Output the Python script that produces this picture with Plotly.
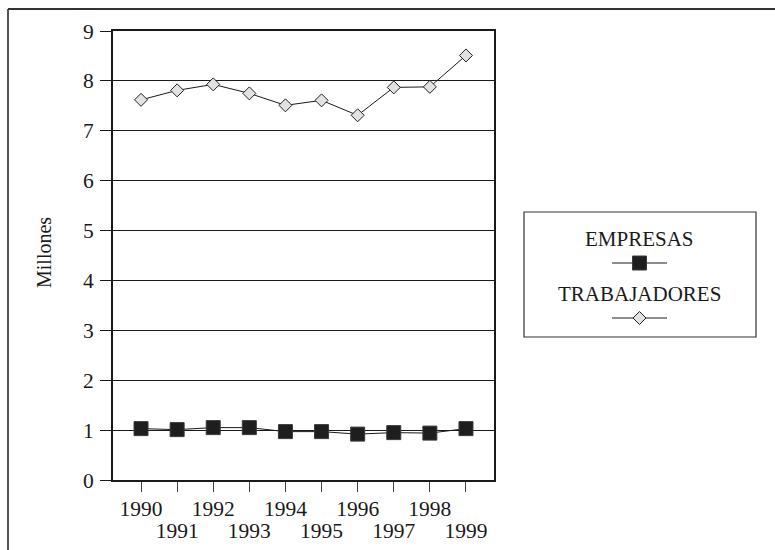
import plotly.graph_objects as go

years = ["1990", "1991", "1992", "1993", "1994", "1995", "1996", "1997", "1998", "1999"]
empresas = [1.03, 1.01, 1.05, 1.05, 0.97, 0.97, 0.92, 0.95, 0.94, 1.03]
trabajadores = [7.62, 7.81, 7.93, 7.75, 7.51, 7.61, 7.31, 7.87, 7.88, 8.51]
series_names = ["EMPRESAS", "TRABAJADORES"]
y_ticks = [0, 1, 2, 3, 4, 5, 6, 7, 8, 9]
y_title = "Millones"

W, H = 775, 550
FONT = "Liberation Serif, Times New Roman, serif"
TXT = "#1a1a1a"


def px(x):
    return x / W


def py(y):
    return (H - y) / H


xs = list(range(len(years)))
even_text = [y if i % 2 == 0 else "" for i, y in enumerate(years)]
odd_vals = [i for i in xs if i % 2 == 1]
odd_text = [years[i] for i in odd_vals]

fig = go.Figure()

sq_marker = dict(symbol="square", size=14, color="#1e1e1e", line=dict(color="#3a3a3a", width=1))
dia_marker = dict(symbol="diamond", size=10, color="#e2e2e2", line=dict(color="#222", width=1))

fig.add_trace(go.Scatter(x=xs, y=trabajadores, mode="lines+markers", name=series_names[1],
                         line=dict(color=TXT, width=1), marker=dia_marker,
                         showlegend=False, cliponaxis=False))
fig.add_trace(go.Scatter(x=xs, y=empresas, mode="lines+markers", name=series_names[0],
                         line=dict(color=TXT, width=1), marker=sq_marker,
                         showlegend=False, cliponaxis=False))
# invisible trace so the second (odd-year label) axis gets drawn
fig.add_trace(go.Scatter(x=odd_vals, y=[empresas[i] for i in odd_vals], xaxis="x3", yaxis="y",
                         mode="markers", marker=dict(opacity=0), showlegend=False,
                         hoverinfo="skip"))

# custom legend swatches (text above symbol)
for row, (name, mk) in enumerate([(series_names[0], sq_marker), (series_names[1], dia_marker)]):
    yv = 1 - row
    fig.add_trace(go.Scatter(x=[-1, 1], y=[yv, yv], mode="lines",
                             line=dict(color=TXT, width=1),
                             xaxis="x2", yaxis="y2", showlegend=False, hoverinfo="skip"))
    fig.add_trace(go.Scatter(x=[0], y=[yv], mode="markers", marker=mk,
                             xaxis="x2", yaxis="y2", showlegend=False, hoverinfo="skip"))
    fig.add_annotation(x=px(639.5), y=py(239 + 55 * row), xref="paper", yref="paper",
                       text=name, showarrow=False, xanchor="center", yanchor="middle",
                       font=dict(family=FONT, size=21, color=TXT))

fig.add_annotation(x=px(44), y=py(253), xref="paper", yref="paper", text=y_title,
                   textangle=-90, showarrow=False, xanchor="center", yanchor="middle",
                   font=dict(family=FONT, size=20, color=TXT))

shapes = [
    # legend box
    dict(type="rect", xref="paper", yref="paper", x0=px(524), x1=px(756), y0=py(337), y1=py(212),
         line=dict(color="#333", width=1.2), fillcolor="rgba(0,0,0,0)"),
    # outer frame
    dict(type="line", xref="paper", yref="paper", x0=px(8), x1=px(8), y0=0, y1=py(9),
         line=dict(color="#555", width=2)),
    dict(type="line", xref="paper", yref="paper", x0=px(8), x1=1, y0=py(9), y1=py(9),
         line=dict(color="#333", width=2)),
]

tickfont = dict(family=FONT, size=21.5, color=TXT)

fig.update_layout(
    template="none",
    width=W, height=H,
    margin=dict(l=0, r=0, t=0, b=0, pad=0),
    paper_bgcolor="white", plot_bgcolor="white",
    font=dict(family=FONT, size=20, color=TXT),
    shapes=shapes,
    xaxis=dict(domain=[px(113), px(494)], range=[-0.776, 9.776], tickmode="array",
               tickvals=xs, ticktext=even_text, ticks="outside", ticklen=10, tickangle=0,
               tickcolor="#444", tickwidth=1.2, showgrid=False, zeroline=False,
               showline=True, linecolor=TXT, linewidth=1.5, mirror=True,
               ticklabelstandoff=-2, automargin=False, tickfont=tickfont),
    xaxis3=dict(domain=[px(113), px(494)], range=[-0.776, 9.776], tickmode="array",
                tickvals=odd_vals, ticktext=odd_text, ticks="outside", ticklen=10,
                tickcolor="rgba(0,0,0,0)", tickangle=0, overlaying="x", anchor="y",
                side="bottom", showgrid=False, zeroline=False, showline=False,
                ticklabelstandoff=21, automargin=False, tickfont=tickfont),
    yaxis=dict(domain=[py(480), py(31)], range=[0, 9], tickmode="array", tickvals=y_ticks,
               ticks="outside", ticklen=11, tickcolor=TXT, tickwidth=1.2,
               showgrid=True, gridcolor=TXT, gridwidth=1, zeroline=False,
               showline=True, linecolor=TXT, linewidth=1.8, mirror=True,
               ticklabelstandoff=2, automargin=False, tickfont=tickfont),
    xaxis2=dict(domain=[px(612), px(667)], range=[-1, 1], visible=False, fixedrange=True,
                automargin=False),
    yaxis2=dict(domain=[py(345.5), py(235.5)], range=[-0.5, 1.5], visible=False,
                anchor="x2", fixedrange=True, automargin=False),
)

fig.write_html("out.html")
